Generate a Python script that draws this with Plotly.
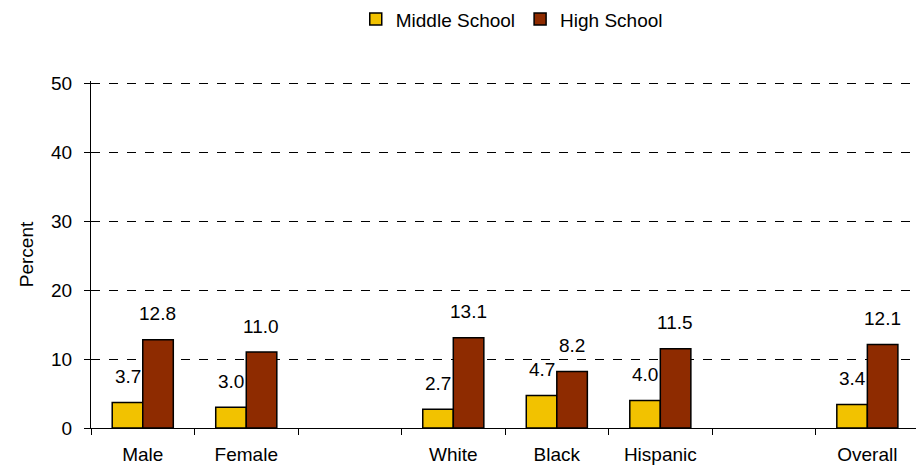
import plotly.graph_objects as go

categories = ["Male", "Female", " ", "White", "Black", "Hispanic", "  ", "Overall"]
middle_school = [3.7, 3.0, None, 2.7, 4.7, 4.0, None, 3.4]
high_school = [12.8, 11.0, None, 13.1, 8.2, 11.5, None, 12.1]
y_ticks = [0, 10, 20, 30, 40, 50]

FONT = "Liberation Sans, Arial, sans-serif"
FS = 19

fig = go.Figure()
fig.add_trace(go.Bar(
    x=categories, y=middle_school, name="Middle School",
    marker=dict(color="#F2C200", line=dict(color="black", width=1.5)),
))
fig.add_trace(go.Bar(
    x=categories, y=high_school, name="High School",
    marker=dict(color="#8E2B00", line=dict(color="black", width=1.5)),
))

annotations = []
for cat, v in zip(categories, middle_school):
    if v is not None:
        annotations.append(dict(x=cat, y=v, text=f"{v:.1f}", showarrow=False,
                                xshift=-15, yshift=26, font=dict(size=FS, color="black", family=FONT)))
for cat, v in zip(categories, high_school):
    if v is not None:
        annotations.append(dict(x=cat, y=v, text=f"{v:.1f}", showarrow=False,
                                xshift=15, yshift=26, font=dict(size=FS, color="black", family=FONT)))

fig.update_layout(
    width=916, height=467,
    margin=dict(l=91, r=0, t=79, b=39),
    paper_bgcolor="white", plot_bgcolor="white",
    font=dict(family=FONT, size=FS, color="black"),
    barmode="group", bargap=0.41, bargroupgap=0,
    showlegend=True,
    legend=dict(orientation="h", x=0.51, xanchor="center", y=1.178, yanchor="middle",
                font=dict(size=19), itemwidth=30, traceorder="normal",
                tracegroupgap=0, itemclick=False),
    annotations=annotations,
)
fig.update_xaxes(
    type="category", categoryorder="array", categoryarray=categories,
    range=[-0.5, 7.47], tickson="boundaries", ticks="outside", ticklen=6,
    tickcolor="black", showline=True, linecolor="black", linewidth=1,
    showgrid=False, ticklabelstandoff=9, tickfont=dict(size=FS), automargin=False,
)
fig.update_yaxes(
    range=[0, 50.3], tickvals=y_ticks, ticks="outside", ticklen=6, tickcolor="black",
    showline=True, linecolor="black", linewidth=1,
    showgrid=True, gridcolor="black", griddash="dash", gridwidth=1,
    zeroline=False, ticklabelstandoff=8, tickfont=dict(size=FS), automargin=False,
    title=dict(text="Percent", font=dict(size=FS), standoff=12),
)

fig.write_html("out.html", config={"displayModeBar": False},
               post_script="document.body.style.margin='0px';")
